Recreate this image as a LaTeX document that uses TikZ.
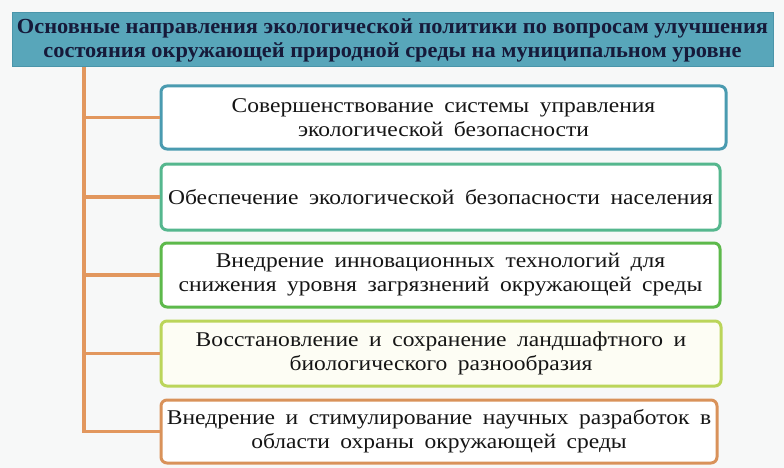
\documentclass[tikz,border=0pt]{standalone}
\usepackage{fontspec}
\setmainfont{Liberation Serif}
\definecolor{bgc}{HTML}{F7F8F8}
\definecolor{hdrfill}{HTML}{58A6BA}
\definecolor{hdrdraw}{HTML}{4A95AA}
\definecolor{hdrtext}{HTML}{161A3A}
\definecolor{cone}{HTML}{4A9BB0}
\definecolor{ctwo}{HTML}{55B78E}
\definecolor{cthree}{HTML}{5DB94B}
\definecolor{cfour}{HTML}{BBD55A}
\definecolor{cfive}{HTML}{D9925A}
\definecolor{connc}{HTML}{E2975E}
\definecolor{txt}{HTML}{151515}
\newcommand\wl[1]{\scalebox{1.12}[1]{\spaceskip=0.45em\relax #1}}
\newcommand\hl[1]{\scalebox{1.04}[1]{#1}}
\begin{document}
\begin{tikzpicture}[x=1pt,y=-1pt,
  itembox/.style={draw, line width=3pt, rounded corners=6pt, fill=white, align=center,
    inner sep=0pt, text=txt, font=\fontsize{21}{24}\selectfont},
  conn/.style={draw=connc, line width=3.5pt},
  hdrbox/.style={draw=hdrdraw, line width=1pt, fill=hdrfill, align=center, inner sep=0pt,
    text=hdrtext, font=\bfseries\fontsize{21.5}{24}\selectfont}]
\fill[bgc] (0,0) rectangle (784,468);
\useasboundingbox (0,0) rectangle (784,468);
\node[hdrbox, minimum width=761pt, minimum height=54pt] (hdr) at (392.5,40)
  {\hl{Основные направления экологической политики по вопросам улучшения}\\
   \hl{состояния окружающей природной среды на муниципальном уровне}};
\node[itembox, draw=cone, minimum width=565pt, minimum height=63pt] (b1) at (443.5,117.5)
  {\wl{Совершенствование системы управления}\\\wl{экологической безопасности}};
\node[itembox, draw=ctwo, minimum width=559pt, minimum height=66pt] (b2) at (440.5,197)
  {\wl{Обеспечение экологической безопасности населения}};
\node[itembox, draw=cthree, minimum width=559pt, minimum height=64pt] (b3) at (440.5,275)
  {\wl{Внедрение инновационных технологий для}\\\wl{снижения уровня загрязнений окружающей среды}};
\node[itembox, draw=cfour, fill={rgb,255:red,253;green,253;blue,244}, minimum width=560pt, minimum height=65pt] (b4) at (441,353.5)
  {\wl{Восстановление и сохранение ландшафтного и}\\\wl{биологического разнообразия}};
\node[itembox, draw=cfive, minimum width=556pt, minimum height=63pt] (b5) at (439,431.5)
  {\wl{Внедрение и стимулирование научных разработок в}\\\wl{области охраны окружающей среды}};
\coordinate (trunk) at (84,67);
\draw[conn] (hdr.south -| trunk) |- (b5.west);
\foreach \b in {b1,b2,b3,b4}{
  \draw[conn] (\b.west -| trunk) -- (\b.west);
}
\end{tikzpicture}
\end{document}
